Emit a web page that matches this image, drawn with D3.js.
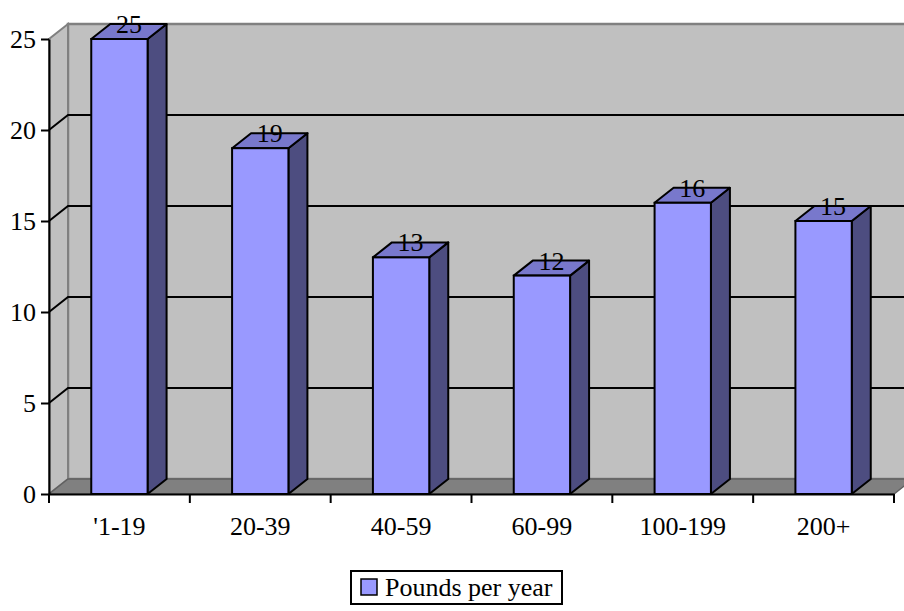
<!DOCTYPE html>
<html>
<head>
<meta charset="utf-8">
<script src="https://cdn.jsdelivr.net/npm/d3@7"></script>
<style>
  html, body { margin: 0; padding: 0; background: #fff; }
  svg { display: block; }
  text { font-family: "Liberation Serif", "Times New Roman", serif; fill: #000; }
</style>
</head>
<body>
<svg id="chart" width="904" height="611"></svg>
<script>
// Pounds per year by group
const categories = ["'1-19", "20-39", "40-59", "60-99", "100-199", "200+"];
const values = [25, 19, 13, 12, 16, 15];
const yTicks = [0, 5, 10, 15, 20, 25];
const seriesName = "Pounds per year";

const plotLeft = 49, plotRight = 894, plotBottom = 494, plotTop = 39;
const DX = 19, DY = -15;          // depth offset of the 3-D box
const fontSize = 26;

const svg = d3.select("#chart");

const x = d3.scaleBand().domain(categories).range([plotLeft, plotRight])
  .paddingInner(0.6).paddingOuter(0.3);
const y = d3.scaleLinear().domain([0, 25]).range([plotBottom, plotTop]);

const pts = a => a.map(p => p.join(",")).join(" ");

// back wall
svg.append("polygon")
  .attr("points", pts([[plotLeft + DX, y(25) + DY], [plotRight + DX, y(25) + DY], [plotRight + DX, y(0) + DY], [plotLeft + DX, y(0) + DY]]))
  .attr("fill", "#c0c0c0").attr("stroke", "#808080").attr("stroke-width", 2.5);

// side wall
svg.append("polygon")
  .attr("points", pts([[plotLeft, y(0)], [plotLeft, y(25)], [plotLeft + DX, y(25) + DY], [plotLeft + DX, y(0) + DY]]))
  .attr("fill", "#c0c0c0").attr("stroke", "#808080").attr("stroke-width", 2);

// floor
svg.append("polygon")
  .attr("points", pts([[plotLeft, y(0)], [plotRight, y(0)], [plotRight + DX, y(0) + DY], [plotLeft + DX, y(0) + DY]]))
  .attr("fill", "#808080").attr("stroke", "#606060").attr("stroke-width", 1.5);

// gridlines across side and back walls
const grid = yTicks.filter(v => v > 0 && v < 25);
svg.append("g").selectAll("polyline").data(grid).join("polyline")
  .attr("points", v => pts([[plotLeft, y(v)], [plotLeft + DX, y(v) + DY], [plotRight + DX, y(v) + DY]]))
  .attr("fill", "none").attr("stroke", "#000").attr("stroke-width", 2);

// bars
const bars = svg.append("g").selectAll("g").data(values).join("g");
bars.append("polygon") // side
  .attr("points", (d, i) => {
    const x1 = x(categories[i]) + x.bandwidth();
    return pts([[x1, y(0)], [x1, y(d)], [x1 + DX, y(d) + DY], [x1 + DX, y(0) + DY]]);
  })
  .attr("fill", "#4d4d80").attr("stroke", "#000").attr("stroke-width", 2).attr("stroke-linejoin", "round");
bars.append("polygon") // top
  .attr("points", (d, i) => {
    const x0 = x(categories[i]), x1 = x0 + x.bandwidth();
    return pts([[x0, y(d)], [x1, y(d)], [x1 + DX, y(d) + DY], [x0 + DX, y(d) + DY]]);
  })
  .attr("fill", "#7878cc").attr("stroke", "#000").attr("stroke-width", 2).attr("stroke-linejoin", "round");
bars.append("rect") // front
  .attr("x", (d, i) => x(categories[i]))
  .attr("y", d => y(d))
  .attr("width", x.bandwidth())
  .attr("height", d => y(0) - y(d))
  .attr("fill", "#9999ff").attr("stroke", "#000").attr("stroke-width", 2);

// value labels on the bar tops
bars.append("text")
  .attr("x", (d, i) => x(categories[i]) + x.bandwidth() / 2 + DX / 2)
  .attr("y", d => y(d) - 6)
  .attr("text-anchor", "middle")
  .attr("font-size", fontSize)
  .text(d => d);

// y axis
const yAxis = svg.append("g").attr("transform", `translate(${plotLeft},0)`)
  .call(d3.axisLeft(y).tickValues(yTicks).tickSize(8).tickPadding(5).tickSizeOuter(0));
yAxis.select(".domain").attr("stroke", "#000").attr("stroke-width", 2);
yAxis.selectAll(".tick line").attr("stroke", "#000").attr("stroke-width", 2);
yAxis.selectAll(".tick text").attr("font-size", fontSize)
  .attr("font-family", "Liberation Serif, Times New Roman, serif");

// x axis: line, ticks at category boundaries, labels at centres
const xAxis = svg.append("g").attr("transform", `translate(0,${plotBottom})`)
  .call(d3.axisBottom(x).tickSize(0).tickPadding(23).tickSizeOuter(0));
xAxis.select(".domain").attr("stroke", "#000").attr("stroke-width", 2);
xAxis.selectAll(".tick text").attr("font-size", fontSize)
  .attr("font-family", "Liberation Serif, Times New Roman, serif");
const bounds = d3.range(categories.length + 1).map(i => plotLeft + i * x.step());
xAxis.selectAll("line.bound").data(bounds).join("line").attr("class", "bound")
  .attr("x1", d => d).attr("x2", d => d).attr("y1", 0).attr("y2", 9)
  .attr("stroke", "#000").attr("stroke-width", 2);

// legend
const lg = svg.append("g");
lg.append("rect").attr("x", 351).attr("y", 571).attr("width", 211).attr("height", 33)
  .attr("fill", "#fff").attr("stroke", "#000").attr("stroke-width", 2);
lg.append("rect").attr("x", 361).attr("y", 579).attr("width", 16).attr("height", 16)
  .attr("fill", "#9999ff").attr("stroke", "#000").attr("stroke-width", 1.5);
lg.append("text").attr("x", 385).attr("y", 596).attr("font-size", fontSize).text(seriesName);
</script>
</body>
</html>
